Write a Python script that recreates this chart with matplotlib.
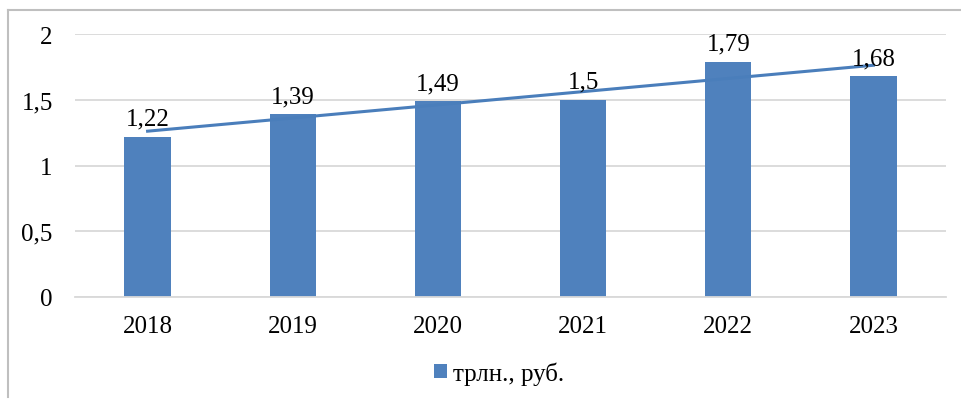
import numpy as np
import matplotlib.pyplot as plt
from matplotlib.lines import Line2D

years = ["2018", "2019", "2020", "2021", "2022", "2023"]
values = [1.22, 1.39, 1.49, 1.5, 1.79, 1.68]
labels = ["1,22", "1,39", "1,49", "1,5", "1,79", "1,68"]
yticks = [0, 0.5, 1, 1.5, 2]
yticklabels = ["0", "0,5", "1", "1,5", "2"]
series_name = "трлн., руб."

plt.rcParams['font.family'] = ['Liberation Serif', 'DejaVu Serif']

fig = plt.figure(figsize=(9.61, 4.02), dpi=100)
ax = fig.add_axes([75 / 961, 1 - 298 / 402, (946 - 75) / 961, (298 - 35) / 402])

x = np.arange(len(years))
bar_color = "#4F81BD"
ax.bar(x, values, width=0.32, color=bar_color, zorder=2, label=series_name)

# linear trend line
k, b = np.polyfit(x, values, 1)
ax.plot(x[[0, -1]], k * x[[0, -1]] + b, color="#4A7EBB", lw=2.2, zorder=3)

for xi, v, t in zip(x, values, labels):
    ax.annotate(t, (xi, v), xytext=(0, 5), textcoords="offset points",
                ha="center", va="bottom", fontsize=18, color="black")

ax.set_xlim(-0.5, len(years) - 0.5)
ax.set_ylim(0, 2)
ax.set_yticks(yticks)
ax.set_yticklabels(yticklabels, fontsize=18)
ax.set_xticks(x)
ax.set_xticklabels(years, fontsize=18)
ax.tick_params(length=0)
ax.tick_params(axis="x", pad=13)
ax.tick_params(axis="y", pad=16)
ax.grid(axis="y", color="#D9D9D9", lw=1.3, zorder=0)
for s in ["top", "right", "left"]:
    ax.spines[s].set_visible(False)
ax.spines["bottom"].set_color("#D9D9D9")
ax.spines["bottom"].set_linewidth(1.3)

ax.legend(loc="center", bbox_to_anchor=(0.487, -0.29), frameon=False, fontsize=18,
          handlelength=0.5, handleheight=0.5, handletextpad=0.25)

# outer frame
fig.add_artist(Line2D([8 / 961, 8 / 961], [1 - 398 / 402, 1 - 11 / 402], color="#BFBFBF", lw=1.5))
fig.add_artist(Line2D([8 / 961, 1], [1 - 11 / 402, 1 - 11 / 402], color="#BFBFBF", lw=1.5))

fig.savefig("out.png", dpi=100)
